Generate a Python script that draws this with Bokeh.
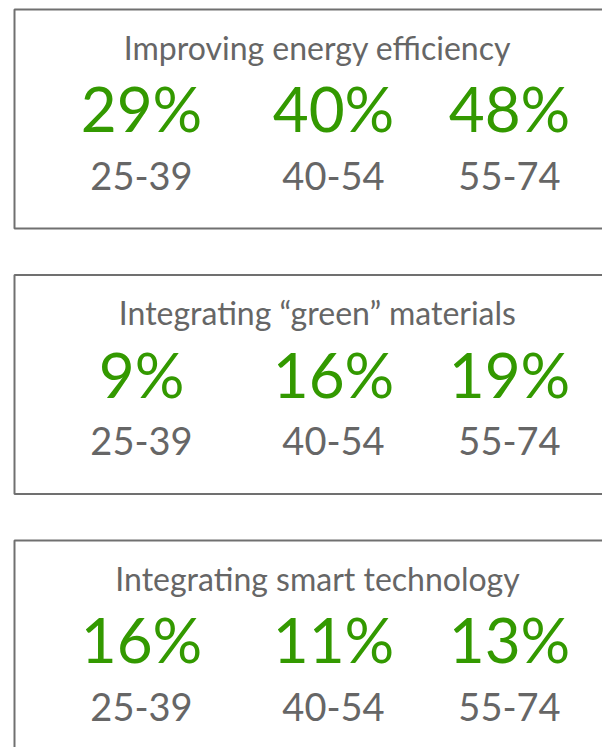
from bokeh.plotting import figure
from bokeh.models import Range1d
from bokeh.core.properties import value
from bokeh.embed import file_html
from bokeh.resources import INLINE

# ---- data ----
titles = ["Improving energy efficiency", "Integrating \u201cgreen\u201d materials", "Integrating smart technology"]
age_groups = ["25-39", "40-54", "55-74"]
energy_efficiency = [29, 40, 48]
green_materials = [9, 16, 19]
smart_technology = [16, 11, 13]
series = [energy_efficiency, green_materials, smart_technology]

# ---- layout constants ----
W, H = 602, 747
FONT = "Lato"
GREEN = "#339900"
GREY = "#666666"
BORDER = "#707070"
TITLE_SIZE, VALUE_SIZE, AGE_SIZE = 32, 62, 38
K = 0.38  # baseline correction factor for bokeh text placement

p = figure(width=W, height=H, output_backend="svg", toolbar_location=None,
           x_range=Range1d(0, W), y_range=Range1d(H, 0),
           min_border=0, outline_line_color=None)
p.axis.visible = False
p.grid.visible = False
p.background_fill_color = "white"
p.border_fill_color = "white"

col_x = [141, 333, 509]
panel_step = 265.5
box_left, box_right = 14, 640
box_h = 219

bx, by, bw, bh = [], [], [], []
tx, ty, tt = [], [], []
vx, vy, vt = [], [], []
ax, ay, at = [], [], []
for i, (title, vals) in enumerate(zip(titles, series)):
    top = 9 + i * panel_step
    bx.append((box_left + box_right) / 2)
    by.append(top + box_h / 2)
    bw.append(box_right - box_left)
    bh.append(box_h)
    tx.append(317)
    ty.append(top + 50 - K * TITLE_SIZE)
    tt.append(title)
    for j, (v, a) in enumerate(zip(vals, age_groups)):
        vx.append(col_x[j]); vy.append(top + 122.5 - K * VALUE_SIZE); vt.append(f"{v}%")
        ax.append(col_x[j]); ay.append(top + 180.5 - K * AGE_SIZE); at.append(a)

p.rect(x=bx, y=by, width=bw, height=bh, fill_color=None,
       line_color=BORDER, line_width=2)

p.text(x=tx, y=ty, text=tt, text_font=value(FONT), text_font_size=f"{TITLE_SIZE}px",
       text_color=GREY, text_align="center", text_baseline="alphabetic")
p.text(x=vx, y=vy, text=vt, text_font=value(FONT), text_font_size=f"{VALUE_SIZE}px",
       text_color=GREEN, text_align="center", text_baseline="alphabetic")
p.text(x=ax, y=ay, text=at, text_font=value(FONT), text_font_size=f"{AGE_SIZE}px",
       text_color=GREY, text_align="center", text_baseline="alphabetic")

open("out.html", "w").write(file_html(p, INLINE))
